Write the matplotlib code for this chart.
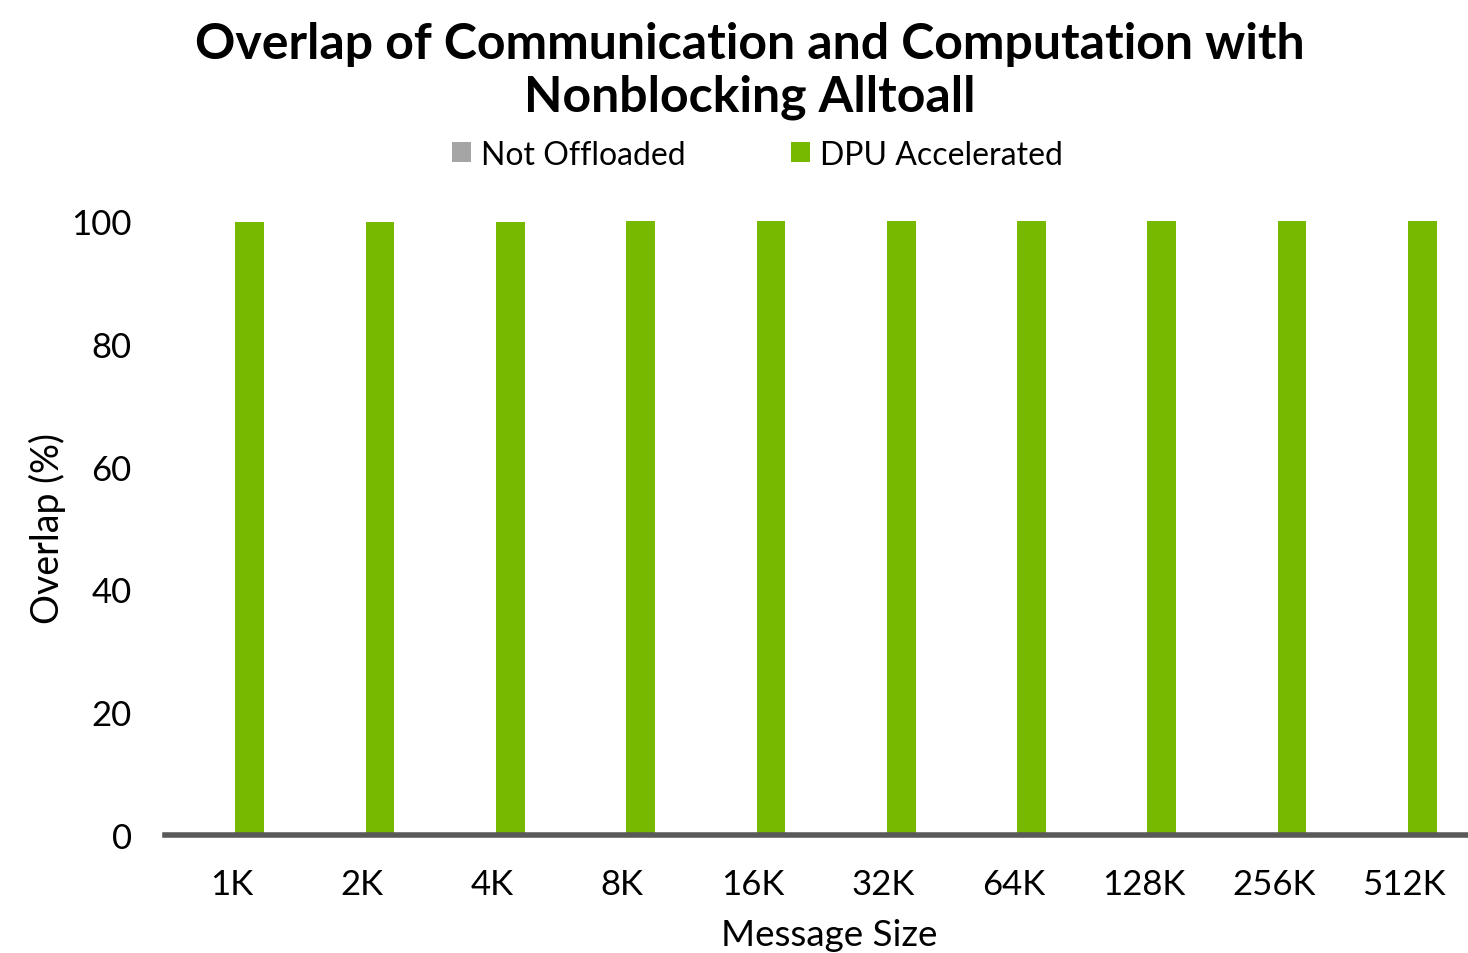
import numpy as np
import matplotlib.pyplot as plt

plt.rcParams['font.family'] = ['Lato', 'DejaVu Sans']

# Data
sizes = ['1K', '2K', '4K', '8K', '16K', '32K', '64K', '128K', '256K', '512K']
not_offloaded = [0, 0, 0, 0, 0, 0, 0, 0, 0, 0]
dpu_accelerated = [99.8, 99.8, 99.8, 100, 100, 100, 100, 100, 100, 100]

grey = '#A5A5A5'
green = '#76B900'

fig = plt.figure(figsize=(14.68, 9.54), dpi=100)
ax = fig.add_axes([165 / 1468, 118 / 954, 1 - 165 / 1468, (836 - 222) / 954])

x = np.arange(len(sizes))
w = 0.22
ax.bar(x - w / 2, not_offloaded, w, color=grey, label='Not Offloaded')
ax.bar(x + w / 2, dpu_accelerated, w, color=green, label='DPU Accelerated')

ax.set_xlim(-0.54, len(sizes) - 0.54)
ax.set_ylim(0, 100)
ax.set_yticks(range(0, 101, 20))
ax.set_xticks(x - 0.03)
ax.set_xticklabels(sizes)
ax.tick_params(axis='both', length=0, labelsize=25)
ax.tick_params(axis='y', pad=24)
ax.tick_params(axis='x', pad=24)

for s in ['top', 'right', 'left']:
    ax.spines[s].set_visible(False)
ax.spines['bottom'].set_color('#595959')
ax.spines['bottom'].set_linewidth(4)

ax.set_xlabel('Message Size', fontsize=26.5)
ax.xaxis.set_label_coords(0.51, -0.135)
ax.set_ylabel('Overlap (%)', fontsize=27)
ax.yaxis.set_label_coords(-0.076, 0.5)

fig.text(0.511, 0.977, 'Overlap of Communication and Computation with\nNonblocking Alltoall',
         ha='center', va='top', fontsize=36, fontweight='bold', linespacing=1.2)

fig.legend(loc='center', bbox_to_anchor=(0.516, 0.837), ncol=2, frameon=False,
           fontsize=23, handlelength=0.6, handleheight=0.6, handletextpad=0.3,
           columnspacing=3.3)

fig.savefig('out.png', dpi=100)
